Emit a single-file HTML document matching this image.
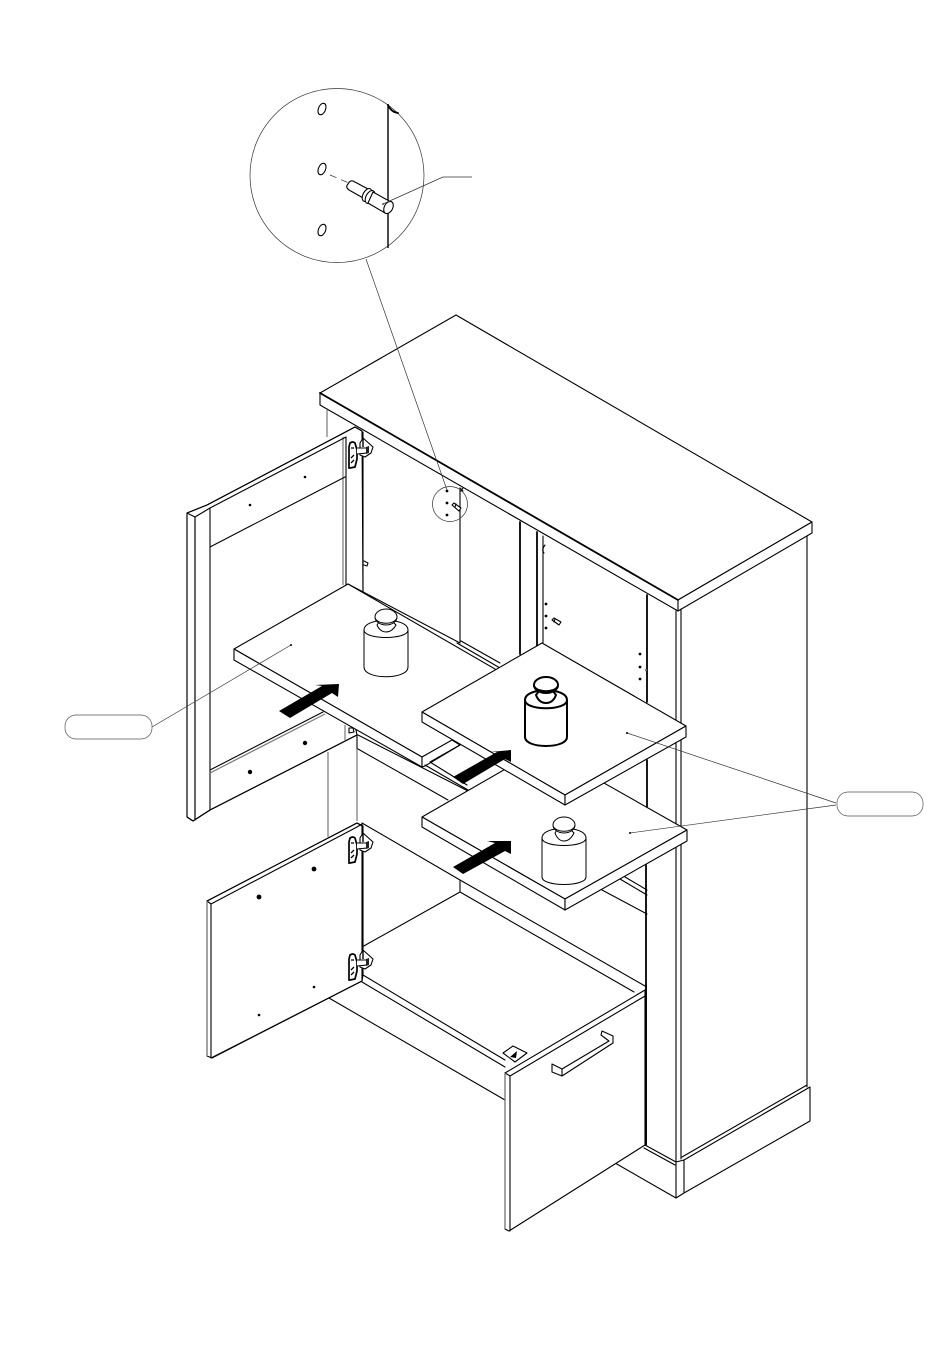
<!DOCTYPE html>
<html>
<head>
<meta charset="utf-8">
<style>
html,body{margin:0;padding:0;background:#fff;width:950px;height:1353px;overflow:hidden}
svg{display:block}
.t{stroke:#000;stroke-width:1.1;fill:none;stroke-linejoin:round;stroke-linecap:round}
.w{stroke:#000;stroke-width:1.1;fill:#fff;stroke-linejoin:round}
.b{stroke:#000;stroke-width:1.8;fill:none;stroke-linejoin:round;stroke-linecap:round}
.g{stroke:#777;stroke-width:1.2;fill:none}
.h{stroke:#333;stroke-width:.7;fill:none}
</style>
</head>
<body>
<svg width="950" height="1353" viewBox="0 0 950 1353" xmlns="http://www.w3.org/2000/svg">
<defs>
<g id="hinge">
<path class="w" d="M15 -3 L25 6 L23 12 L17 16 L12 14 L12 2 Z" stroke-width="1"/>
<path d="M2 2 Q5 0 7 2 L9 9 L9 18 L7 26 L2 27 L1 27 L1 6 Z" fill="#fff" stroke="#000" stroke-width="1.7"/>
<path d="M3 7 L6 7 M3 17 L6 14 M3 22 L6 19" stroke="#000" stroke-width="1.3" fill="none"/>
<path d="M9 7 L19 7 L19 12 L9 13" fill="#fff" stroke="#000" stroke-width="1"/>
<path d="M18 6 L21 5 L21 12 L18 13 Z" fill="#222"/>
<path d="M15 -3 L15 6" stroke="#000" stroke-width="1.4"/>
</g>
</defs>

<!-- cabinet sides and top -->
<path class="g" d="M327 410 V437"/>
<path class="w" d="M320 393 L456 315 L812 522 L678 600 Z"/>
<path class="w" d="M320 393 V405 L678 611 V600 Z M678 600 L812 522 V533 L678 611 Z"/>
<path class="b" d="M320 393 L678 600"/>
<path class="t" d="M807 536 V1087 M676 611 V1162 M681 609 V1159"/>
<path class="b" d="M646 1145 V865 M647 807 V760 M647 702 V595 M520 522 V654"/>
<path class="b" d="M537 532 V646" stroke-width="1.4"/>
<path class="t" d="M543 536 V643 M460 488 V643"/>
<path d="M545 545 Q541 550 544 553" class="t"/>
<path class="t" d="M457 643 L500 668 M461 641 L500 663"/>

<!-- skirting -->
<path class="t" d="M682 1157 L807 1085 M684 1160 L810 1087 V1121 L684 1193 V1160 M676 1162 V1198 L684 1193 M645 1145 L676 1162 L684 1160 M644 1148 L675 1165 M615 1163 L676 1198"/>

<!-- upper door -->
<path class="w" d="M187 513 L207 505 L355 427 L362 431 L363 592 L346 585 L346 680 L357 735 L210 810 L193 821 L187 817 Z"/>
<path class="g" d="M343 437 V585 M195 517 V817"/>
<path class="t" d="M187 513 V817 L193 821 L210 810 L357 735 M187 513 L195 517 L210 508 L346 437 M195 517 V820 M210 508 V810 M187 513 L207 505 L355 427 L362 431 M346 437 V585 M363 432 V592 M210 547 L345 477 M210 770 L323 712"/>
<path class="g" d="M210 773 L325 714"/>
<circle cx="250" cy="505" r="1.3"/><circle cx="305" cy="477" r="1.3"/>
<circle cx="250" cy="772" r="2.2"/><circle cx="305" cy="743" r="2.2"/>
<path class="t" d="M346 585 L348 584 L460 643"/>
<path class="t" d="M364 561 L368 563 L367 566 L364 565"/>
<use href="#hinge" x="348" y="441"/>

<!-- centre lower lines -->
<path class="g" d="M345 725 V740"/>
<path class="t" d="M349 728 L353 728 L354 732 L349 733 Z"/>
<path class="t" d="M358 735 L468 791 M358 749 L448 800 M357 735 V749"/>
<path class="g" d="M357 749 V821 M328 752 V837" stroke-width="1.6"/>
<path class="t" d="M362 823 L460 880 L645 986 M460 880 V892 L634 992 M362 947 L460 892"/>

<!-- floor / drawer -->
<path class="t" d="M363 975 L505 1060 M362 982 L505 1067 M329 998 L505 1100"/>
<path class="w" d="M503 1053 L513 1046 L527 1053 L515 1062 Z"/>
<path d="M510 1057 L517 1051 L516 1058 Z" fill="#000"/>
<path class="w" d="M505 1073 L645 990 V1145 L509 1231 L505 1229 Z"/>
<path class="t" d="M505 1073 L510 1076 L645 996 M510 1076 V1231"/>
<path class="g" d="M505 1073 V1229"/>
<path class="w" d="M552 1064 L562 1069 L609 1041 L601 1035 L602 1031 L613 1036 V1043 L562 1076 L552 1072 Z"/>
<path class="t" d="M562 1069 V1076"/>
<path class="b" d="M646 985 V1145" stroke-width="1.6"/>

<!-- lower door -->
<path class="w" d="M207 901 L357 823 L363 826 V975 L362 981 L212 1058 L207 1056 Z"/>
<path class="t" d="M207 901 L211 904 L357 827 L362 824 M207 901 L357 823 L362 826 M211 904 V1058 L362 981 M362 824 V981"/>
<path class="g" d="M207 901 V1056"/>
<circle cx="259" cy="897" r="2.4"/><circle cx="314" cy="869" r="2.4"/>
<circle cx="259" cy="1015" r="1.3"/><circle cx="314" cy="987" r="1.3"/>
<use href="#hinge" x="348" y="836"/>
<use href="#hinge" x="348" y="953"/>

<!-- left shelf -->
<path class="w" d="M234 649 L348 584 L540 695 L422 757 Z"/>
<path class="w" d="M234 649 V660 L422 767 V757 Z"/>
<path class="w" d="M422 757 L452 740 L460 745 L425 766 L422 767 Z"/>
<path class="t" d="M430 762 L460 745 M430 762 L467 785 M425 765 L468 790"/>

<!-- lower shelf -->
<path class="t" d="M620 879 L647 895 M625 877 L647 890 M602 890 L647 914"/>
<path class="w" d="M422 817 L542 748 L687 830 L565 899 Z"/>
<path class="w" d="M422 817 V827 L565 910 V899 Z"/>
<path class="w" d="M565 899 L687 830 V841 L565 910 Z"/>

<!-- upper shelf -->
<path class="w" d="M422 712 L542 643 L686 726 L565 795 Z"/>
<path class="w" d="M422 712 V722 L565 805 V795 Z"/>
<path class="w" d="M565 795 L686 726 V737 L565 805 Z"/>

<!-- dots on cabinet wall -->
<circle cx="546" cy="604" r="1.4"/><circle cx="546" cy="616" r="1.4"/><circle cx="546" cy="628" r="1.4"/>
<circle cx="640" cy="654" r="1.4"/><circle cx="640" cy="667" r="1.4"/><circle cx="640" cy="679" r="1.4"/>
<circle cx="646" cy="670" r="1" fill="#fff" stroke="#000" stroke-width=".5"/>
<path class="w" stroke-width=".8" d="M552 620 L554 618 L561 622 L559 625 Z"/>
<path class="t" d="M555 619 L554 622"/>
<path class="w" d="M452 505 L454 503 L461 508 L459 511 Z"/>
<path class="t" d="M456 504 L455 507"/>
<circle cx="447" cy="491" r="1.4"/><circle cx="447" cy="503" r="1.4"/><circle cx="447" cy="515" r="1.4"/>
<path class="t" d="M460 488 L463 491 M463 488 L461 491"/>
<circle class="h" cx="450" cy="504" r="17.5"/>
<path class="h" d="M366 259 L447 490"/>

<!-- weights -->
<g fill="#fff" stroke="#000" stroke-width="1">
<path d="M364 630 V667 C364 680 408 680 408 667 V630 C408 617 364 617 364 630 Z"/>
<path d="M364 630 C364 640 408 640 408 630" fill="none"/>
<path d="M377 625 Q380 632 386 632 Q392 632 396 625 L393 622 H379 Z"/>
<ellipse cx="386" cy="617" rx="11" ry="8"/>
<path d="M375 618 C378 625 394 625 397 618" fill="none"/>
</g>
<g fill="#fff" stroke="#000" stroke-width="2">
<path d="M525 700 V737 C525 749 567 749 567 737 V700 C567 687 525 687 525 700 Z"/>
<path d="M525 700 C525 711 567 711 567 700" fill="none"/>
<path d="M536 695 Q539 703 546 703 Q553 703 556 695 L553 691 H539 Z"/>
<ellipse cx="546" cy="685" rx="12" ry="8"/>
<path d="M534 686 C537 693 555 693 558 686" fill="none"/>
</g>
<g fill="#fff" stroke="#000" stroke-width="1">
<path d="M542 838 V877 C542 887 586 887 586 877 V838 C586 825 542 825 542 838 Z"/>
<path d="M542 838 C542 848 586 848 586 838" fill="none"/>
<path d="M555 833 Q558 841 564 841 Q570 841 574 833 L571 830 H557 Z"/>
<ellipse cx="564" cy="825" rx="11" ry="8"/>
<path d="M553 826 C556 833 572 833 575 826" fill="none"/>
</g>

<!-- arrows -->
<path d="M279 711 L322 686 L315 685 L339 684 L338 697 L332 693 L290 718 Z" fill="#000"/>
<path d="M453 777 L497 752 L490 752 L511 750 L511 762 L505 759 L463 784 Z" fill="#000"/>
<path d="M453 867 L495 843 L487 841 L511 841 L511 854 L505 851 L463 874 Z" fill="#000"/>

<!-- leaders and callouts -->
<path class="h" d="M152 727 L291 645 M836 803 L627 733 M836 805 L630 833"/>
<circle cx="291" cy="645" r="1"/><circle cx="627" cy="733" r="1"/><circle cx="630" cy="833" r="1"/>
<rect x="65" y="715" width="87" height="24" rx="11" ry="11" fill="#fff" stroke="#555" stroke-width=".7"/>
<rect x="837" y="792" width="86" height="24" rx="11" ry="11" fill="#fff" stroke="#555" stroke-width=".7"/>

<!-- detail circle -->
<circle class="h" cx="337" cy="175.5" r="87" fill="#fff"/>
<path d="M388 104 V248" stroke="#000" stroke-width="1.4" fill="none"/>
<path d="M388 105 Q391 112 398 113" class="b"/>
<ellipse class="t" cx="322" cy="109" rx="3.6" ry="6" transform="rotate(22 322 109)"/>
<ellipse class="t" cx="322" cy="169" rx="3.6" ry="6" transform="rotate(22 322 169)"/>
<ellipse class="t" cx="322" cy="230" rx="3.6" ry="6" transform="rotate(22 322 230)"/>
<path class="h" stroke-dasharray="7 5" d="M330 175 L349 183"/>
<path class="w" d="M353 181 L370 190 L365 199 L349 190 Q345 187 348 184 Q350 180 353 181 Z"/>
<ellipse class="w" stroke-width="1.4" cx="367" cy="195" rx="4" ry="7" transform="rotate(28 367 195)"/>
<ellipse class="w" stroke-width="1.4" cx="370" cy="197" rx="4" ry="7" transform="rotate(28 370 197)"/>
<path class="w" d="M373 192 L391 202 L385 213 L368 203 Z"/>
<ellipse class="w" cx="388.500" cy="207.500" rx="4.200" ry="6.500" transform="rotate(28 388.500 207.500)"/>
<path class="h" d="M383 204 L443 177 H472"/>
<circle cx="383" cy="204" r=".8"/>
</svg>
</body>
</html>
